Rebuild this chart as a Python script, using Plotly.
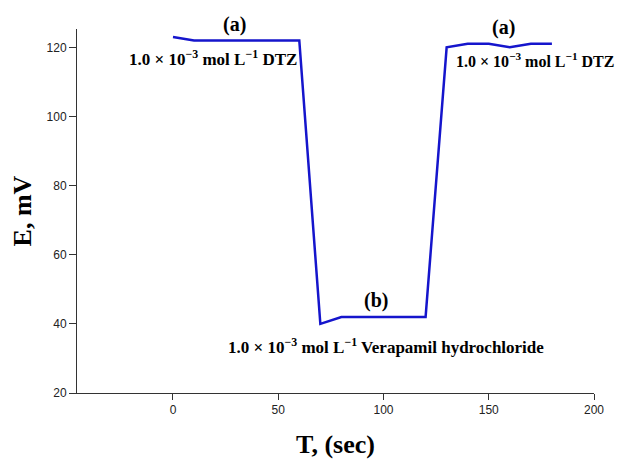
import plotly.graph_objects as go

time_s = [0, 10, 20, 30, 40, 50, 60, 70, 80, 90, 100, 110, 120, 130, 140, 150, 160, 170, 180]
potential_mv = [123, 122, 122, 122, 122, 122, 122, 40, 42, 42, 42, 42, 42, 120, 121, 121, 120, 121, 121]

x_ticks = [0, 50, 100, 150, 200]
y_ticks = [20, 40, 60, 80, 100, 120]

serif = "Liberation Serif, Times New Roman, serif"

fig = go.Figure()
fig.add_trace(go.Scatter(x=time_s, y=potential_mv, mode="lines",
                         line=dict(color="#1515cc", width=2.5), showlegend=False))

ann_font = dict(family=serif, size=17, color="black")
ann_font_r = dict(family=serif, size=16, color="black")
big_font = dict(family=serif, size=20, color="black")
sup = "<sup>−3</sup>"
sup1 = "<sup>−1</sup>"
annotations = [
    dict(x=29.2, y=1.011, text="<b>(a)</b>", font=big_font),
    dict(x=19.0, y=0.920, text=f"<b>1.0 × 10{sup} mol L{sup1} DTZ</b>", font=ann_font),
    dict(x=156.8, y=1.003, text="<b>(a)</b>", font=big_font),
    dict(x=172.0, y=0.915, text=f"<b>1.0 × 10{sup} mol L{sup1} DTZ</b>", font=ann_font_r),
    dict(x=96.2, y=0.253, text="<b>(b)</b>", font=big_font),
    dict(x=101.4, y=0.129, text=f"<b>1.0 × 10{sup} mol L{sup1} Verapamil hydrochloride</b>", font=ann_font),
]
for a in annotations:
    a.update(xref="x", yref="paper", showarrow=False, xanchor="center", yanchor="middle")

tick_font = dict(family="Arial, Liberation Sans", size=12, color="#222")
fig.update_layout(
    width=612, height=451,
    margin=dict(l=69, r=26, t=21, b=66),
    paper_bgcolor="white", plot_bgcolor="white",
    annotations=annotations,
    xaxis=dict(range=[-45.6, 200], tickvals=x_ticks, showgrid=False, zeroline=False, automargin=False,
               showline=True, linecolor="#333", linewidth=1, ticks="outside", ticklen=6,
               tickcolor="#333", tickfont=tick_font,
               title=dict(text="<b>T, (sec)</b>", font=dict(family=serif, size=26, color="black"), standoff=21)),
    yaxis=dict(range=[20, 125.3], tickvals=y_ticks, showgrid=False, zeroline=False, automargin=False,
               showline=True, linecolor="#333", linewidth=1, ticks="outside", ticklen=7,
               tickcolor="#333", tickfont=tick_font,
               title=dict(text="<b>E, mV</b>", font=dict(family=serif, size=26, color="black"), standoff=11)),
)

fig.write_html("out.html")
